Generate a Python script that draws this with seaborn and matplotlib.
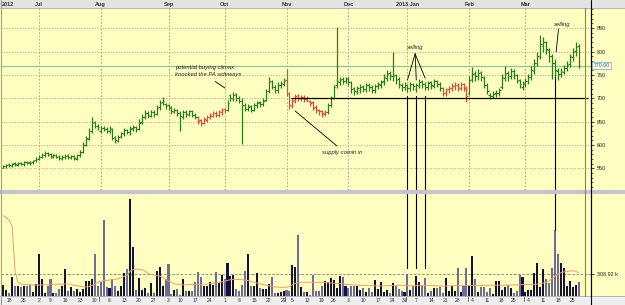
import numpy as np
import pandas as pd
import matplotlib
matplotlib.use("Agg")
import matplotlib.pyplot as plt
import seaborn as sns
from matplotlib.patches import Rectangle
from matplotlib.lines import Line2D
from matplotlib.ticker import MultipleLocator, FixedLocator

# ---------------- data ----------------
holidays = ["2012-07-04", "2012-09-03", "2012-10-29", "2012-10-30", "2012-11-22",
            "2012-12-25", "2013-01-01", "2013-01-21", "2013-02-18"]
start_date = "2012-06-14"
end_date = "2013-03-27"

opens = [552, 555, 559, 556, 561, 558, 562, 559, 564, 563,
         564, 567, 571, 575, 578, 583, 580, 575, 579,
         576, 571, 574, 578, 573, 577, 571, 578, 586, 601,
         614, 631, 650, 641, 631, 637, 635, 629, 634,
         617, 609, 619, 624, 633, 627, 636, 639, 635, 650,
         659, 669, 663, 671, 667, 681, 691, 687, 685,
         681, 671, 676, 669, 660, 671, 665, 673, 665, 659,
         653, 647, 654, 661, 663, 669, 664, 671, 677, 675,
         706, 699, 709, 701, 694, 686, 677, 683, 675,
         686, 691, 687, 697, 716, 736, 724, 717, 729, 731,
         740, 712, 684, 696, 706, 699, 703, 697, 694,
         691, 681, 674, 673, 667, 671, 686, 701, 728, 734,
         741, 737, 743, 734, 721, 714, 717, 726, 719,
         729, 725, 717, 727, 729, 736, 744, 753, 747, 749,
         741, 729, 724, 729, 721, 731, 719, 727, 736,
         731, 724, 734, 727, 737, 731, 721, 711, 719, 721,
         727, 729, 723, 731, 723, 712, 741, 753, 747, 756,
         744, 729, 707, 704, 711, 711, 725, 744, 753,
         747, 759, 749, 739, 724, 731, 737, 746, 759,
         776, 789, 812, 821, 804, 791, 776, 759, 751, 757,
         764, 773, 789, 801, 812]

highs = [558, 560, 561, 562, 563, 564, 564, 566, 566, 565,
         569, 574, 578, 582, 587, 586, 582, 580, 581,
         578, 578, 580, 580, 578, 579, 580, 589, 606, 620,
         636, 660, 652, 645, 640, 640, 638, 640, 636,
         620, 622, 628, 636, 635, 640, 642, 641, 655, 666,
         674, 672, 676, 674, 685, 696, 702, 690, 688,
         683, 680, 678, 672, 674, 674, 676, 676, 668, 662,
         656, 659, 664, 668, 672, 672, 676, 680, 680, 696,
         710, 714, 712, 704, 700, 690, 688, 686, 690,
         694, 695, 700, 720, 745, 740, 728, 734, 738, 744,
         762, 714, 700, 710, 710, 708, 706, 704, 697,
         694, 685, 678, 676, 674, 690, 705, 728, 853, 746,
         745, 746, 745, 736, 724, 727, 730, 728, 733,
         732, 728, 730, 735, 740, 752, 760, 758, 800, 752,
         745, 733, 734, 730, 735, 732, 732, 742, 740,
         735, 738, 737, 742, 740, 734, 724, 722, 726, 732,
         734, 732, 735, 733, 726, 748, 766, 758, 762, 758,
         748, 733, 712, 715, 718, 722, 752, 768, 758,
         765, 762, 752, 742, 738, 744, 752, 768, 785,
         798, 836, 830, 822, 808, 795, 785, 765, 765, 772,
         780, 795, 808, 820, 815]

lows = [550, 552, 554, 553, 556, 555, 557, 556, 559, 558,
        560, 564, 568, 572, 575, 576, 573, 572, 572,
        568, 568, 571, 570, 570, 568, 568, 575, 584, 598,
        610, 626, 636, 632, 626, 630, 626, 625, 610,
        604, 606, 615, 620, 624, 622, 630, 628, 632, 645,
        655, 658, 660, 660, 664, 676, 686, 678, 676,
        666, 668, 663, 630, 656, 660, 662, 660, 655, 646,
        640, 645, 650, 656, 660, 660, 660, 665, 668, 672,
        694, 694, 695, 690, 602, 672, 672, 670, 672,
        680, 682, 684, 694, 712, 720, 712, 712, 722, 726,
        704, 678, 680, 690, 694, 694, 692, 692, 684,
        674, 668, 664, 660, 662, 666, 682, 698, 722, 728,
        730, 732, 728, 712, 706, 710, 712, 714, 714,
        716, 712, 712, 720, 722, 728, 738, 740, 736, 730,
        722, 716, 718, 714, 716, 718, 714, 722, 722,
        718, 718, 720, 722, 724, 716, 704, 705, 712, 716,
        718, 716, 718, 716, 693, 708, 734, 738, 740, 738,
        722, 710, 698, 700, 702, 705, 720, 738, 738,
        742, 742, 732, 722, 718, 725, 730, 740, 752,
        770, 785, 800, 795, 778, 742, 745, 740, 745, 752,
        758, 766, 780, 790, 765]

closes = [556, 558, 557, 560, 559, 561, 560, 563, 562, 561,
          566, 570, 574, 578, 582, 579, 576, 578, 575,
          572, 575, 577, 574, 576, 572, 578, 585, 600, 615,
          630, 648, 640, 638, 636, 634, 630, 636, 615,
          610, 618, 625, 632, 628, 635, 638, 634, 648, 660,
          668, 664, 670, 666, 680, 690, 695, 684, 680,
          672, 675, 668, 662, 670, 666, 672, 664, 660, 652,
          648, 655, 660, 664, 668, 665, 672, 676, 674, 690,
          700, 708, 700, 695, 685, 678, 682, 676, 685,
          690, 688, 695, 715, 735, 725, 718, 728, 732, 738,
          710, 685, 695, 705, 700, 702, 698, 700, 690,
          680, 675, 672, 668, 670, 685, 700, 725, 738, 740,
          738, 742, 735, 720, 715, 722, 725, 720, 728,
          724, 718, 726, 730, 735, 745, 752, 748, 748, 740,
          730, 725, 728, 722, 730, 726, 728, 735, 730,
          725, 733, 728, 736, 730, 722, 712, 718, 722, 726,
          728, 724, 730, 722, 705, 740, 752, 748, 755, 745,
          728, 715, 705, 710, 712, 718, 745, 752, 748,
          758, 750, 738, 730, 732, 738, 745, 760, 775,
          790, 815, 820, 805, 790, 775, 760, 752, 758, 765,
          772, 790, 800, 810, 770]

# bar colour segments (index ranges of red "weak" bars)
red_segments = [(66, 75), (96, 109), (149, 157)]

# volume in thousands
volume_k = [157, 85, 38, 261, 142, 133, 123, 142, 133, 157,
            62, 166, 584, 237, 38, 142, 237, 47, 47, 95,
            142, 370, 71, 123, 71, 95, 62, 95, 204, 204,
            228, 584, 133, 195, 1045, 123, 109, 228, 133, 71,
            133, 323, 370, 1344, 670, 76, 242, 76, 109, 47,
            180, 38, 347, 394, 142, 228, 442, 28, 76, 95,
            14, 228, 71, 71, 71, 195, 337, 261, 142, 142,
            195, 157, 337, 195, 285, 228, 451, 276, 285, 95,
            71, 157, 347, 575, 142, 133, 314, 109, 95, 95,
            171, 266, 38, 38, 52, 71, 85, 71, 428, 404,
            846, 119, 52, 52, 14, 285, 71, 71, 142,
            204, 190, 242, 219, 109, 276, 266, 142, 109,
            133, 133, 142, 85, 109, 62, 109, 52, 214, 95,
            195, 62, 76, 38, 180, 142, 95, 71, 62, 309,
            85, 133, 276, 190, 133, 252, 47, 71, 109, 109,
            123, 38, 242, 71, 133, 71, 385, 62, 142, 385,
            142, 551, 228, 52, 123, 123, 52, 109, 28,
            204, 204, 85, 123, 157, 109, 38, 71, 285, 266,
            62, 85, 85, 323, 451, 123, 370, 228, 180, 385,
            903, 584, 456, 380, 142, 204, 119, 157, 190]

volume_ma_k = [1107, 1080, 1040, 960, 330, 190, 165, 160, 158, 155,
               152, 150, 150, 152, 155, 157, 160, 160, 162, 163,
               165, 166, 166, 160, 150, 140, 135, 130, 125, 128,
               145, 160, 190, 205, 210, 215, 220, 228, 230, 240,
               255, 270, 290, 340, 365, 370, 368, 362, 345, 310,
               300, 290, 280, 275, 260, 230, 205, 185, 170, 160,
               157, 155, 155, 157, 160, 160, 160, 157, 160, 165,
               170, 175, 180, 185, 195, 205, 215, 225, 228, 228,
               228, 225, 220, 212, 200, 190, 178, 168, 158, 150,
               140, 133, 125, 122, 120, 120, 122, 128, 155, 175,
               185, 190, 190, 190, 190, 190, 190, 190, 188, 185,
               183, 180, 178, 175, 170, 165, 160, 157, 155, 152,
               150, 148, 145, 143, 142, 142, 140, 138, 138, 140,
               142, 145, 147, 148, 148, 146, 144, 142, 140, 140,
               142, 143, 145, 146, 146, 145, 143, 140, 138, 137,
               137, 138, 140, 142, 145, 147, 148, 147, 145, 143,
               142, 142, 144, 146, 148, 150, 150, 149, 148, 148,
               149, 150, 152, 153, 154, 155, 156, 155, 157, 158,
               160, 165, 170, 178, 190, 210, 240, 270, 300, 320,
               332, 340, 345, 347, 340, 323]

volume_ref_k = 308.92
support_level = 700
selling_jan_bars = [137, 140, 143]
selling_mar_bar = 187

price_ticks = [550, 600, 650, 700, 750, 800, 850]

# ---------------- style ----------------
sns.set_theme(style="white")
plt.rcParams["font.family"] = ["Liberation Sans", "DejaVu Sans"]

BG = "#ffffc2"
GREEN = "#2b7a1c"
RED = "#d4503e"

dates = pd.bdate_range(start_date, end_date, freq="C", holidays=holidays)
n = len(dates)
idx = np.arange(n)
O = np.array(opens, float)
Hh = np.array(highs, float)
L = np.array(lows, float)
C = np.array(closes, float)
V = np.array(volume_k, float)
MA = np.array(volume_ma_k, float)

bar_colors = np.array([GREEN] * n, dtype=object)
for a, b in red_segments:
    bar_colors[a:b + 1] = RED

W, Hpx = 625, 305
def fx(px):
    return px / W
def fy(py):
    return 1 - py / Hpx

fig = plt.figure(figsize=(6.25, 3.05), dpi=100, facecolor=BG)

# background strips
fig.patches.append(Rectangle((0, fy(8)), 1, 8 / Hpx, transform=fig.transFigure,
                             facecolor="#e3e3e3", edgecolor="none", zorder=-5))
fig.patches.append(Rectangle((0, fy(193.5)), 1, 4 / Hpx, transform=fig.transFigure,
                             facecolor="#c4c4cc", edgecolor="none", zorder=-5))
fig.patches.append(Rectangle((0, 0), 1, 9 / Hpx, transform=fig.transFigure,
                             facecolor="#eeeeee", edgecolor="none", zorder=-5))
fig.lines.append(Line2D([0, 1], [fy(8), fy(8)], transform=fig.transFigure, color="#a8a8a8", lw=0.6))
fig.lines.append(Line2D([0, 1], [fy(296), fy(296)], transform=fig.transFigure, color="#a8a8a8", lw=0.6))

x_left, x_right = fx(1), fx(591)
ax = fig.add_axes([x_left, fy(189.5), x_right - x_left, fy(8) - fy(189.5)])
axv = fig.add_axes([x_left, fy(296), x_right - x_left, fy(193.5) - fy(296)], sharex=ax)

px_per_bar = 2.95
xmin = (1 - 3.3) / px_per_bar
xmax = (591 - 3.3) / px_per_bar

for a in (ax, axv):
    a.set_facecolor(BG)
    for s in ("top", "left", "bottom"):
        a.spines[s].set_visible(False)
    a.spines["right"].set_color("black")
    a.spines["right"].set_linewidth(0.8)
    a.set_xlim(xmin, xmax)

# ---------------- price panel ----------------
ax.set_ylim(505, 893)
ax.yaxis.tick_right()
ax.yaxis.set_major_locator(FixedLocator(price_ticks))
ax.yaxis.set_minor_locator(MultipleLocator(10))
ax.tick_params(axis="y", which="major", length=2.5, width=0.6, labelsize=3.9, pad=1.5, colors="#222222")
ax.tick_params(axis="y", which="minor", length=1.3, width=0.5, colors="#222222")
ax.tick_params(axis="x", which="both", length=0, labelbottom=False)
ax.grid(False)
for p in price_ticks:
    ax.axhline(p, color="#9c9c9c", lw=0.6, ls=(0, (1.2, 2)), zorder=1)

# month gridlines
month_first = pd.Series(idx, index=dates).groupby([dates.year, dates.month]).first().values
for j in month_first[1:]:
    ax.axvline(j, color="#9c9c9c", lw=0.6, ls=(0, (2, 2)), zorder=1)

# current price line
ax.axhline(C[-1], color="#8fc7a3", lw=0.9, zorder=1.5)

# OHLC bars
ax.vlines(idx, L, Hh, colors=bar_colors, lw=0.9, zorder=3)
ax.hlines(O, idx - 0.55, idx, colors=bar_colors, lw=0.8, zorder=3)
ax.hlines(C, idx, idx + 0.55, colors=bar_colors, lw=0.8, zorder=3)

# support line
ax.hlines(support_level, 97.5, 198.3, colors="black", lw=0.9, zorder=4)

# annotations
ann = dict(fontsize=4.2, style="italic", color="#222222")
ax.text(58.3, 758, "potential buying climax\nknocked the PA sideways", ha="left", va="center",
        linespacing=1.55, **ann)
ax.plot([71.8, 75.1], [736, 722], color="black", lw=0.6, zorder=5)

ax.text(108.2, 585, "supply comin in", ha="left", va="center", **ann)
ax.plot([98.9, 113.1], [673, 598], color="black", lw=0.6, zorder=5)

ax.text(139.6, 808, "selling", ha="center", va="center", **ann)
for j, yb in zip(selling_jan_bars, [739, 739, 743]):
    ax.plot([139.6, j], [795, yb], color="black", lw=0.6, zorder=5)
    ax.plot([j, j], [704, 505], color="black", lw=0.8, zorder=5)

ax.text(189.3, 857, "selling", ha="center", va="center", **ann)
ax.plot([188.2, 187.4], [848, 799], color="black", lw=0.6, zorder=5)
ax.plot([selling_mar_bar, selling_mar_bar], [L[selling_mar_bar], 505], color="black", lw=0.8, zorder=5)

# last price box
ax.text(1.004, C[-1], f"{C[-1]:.2f}", transform=ax.get_yaxis_transform(), ha="left", va="center",
        fontsize=3.8, color="#1f5f7f",
        bbox=dict(boxstyle="square,pad=0.25", facecolor="#fdfde8", edgecolor="#7fb3cf", lw=0.6),
        zorder=6, clip_on=False)

# ---------------- volume panel ----------------
axv.set_ylim(0, 1413)
up = np.r_[True, C[1:] >= C[:-1]]
vcolors = np.where(up, "#12123a", "#6c6c9e")
axv.bar(idx, V, width=0.7, color=vcolors, linewidth=0, zorder=3)
sns.lineplot(x=idx, y=MA, ax=axv, color="#e2a36a", lw=0.7, zorder=4, legend=False)
axv.axhline(volume_ref_k, color="#8a7a5a", lw=0.6, ls=(0, (3, 2)), zorder=2)
axv.set_xlabel("")
axv.set_ylabel("")
axv.yaxis.tick_right()
axv.set_yticks([volume_ref_k])
axv.set_yticklabels([f"{volume_ref_k:.2f} k"])
axv.tick_params(axis="y", length=2.5, width=0.6, labelsize=3.9, pad=1.5, colors="#222222")

for j in selling_jan_bars:
    axv.plot([j, j], [1413, 390], color="black", lw=0.8, zorder=5)
axv.plot([selling_mar_bar, selling_mar_bar], [1413, V[selling_mar_bar]], color="black", lw=0.8, zorder=5)

# week labels (full weeks only: Monday label inside the data range)
wk = pd.Series(idx, index=dates)
week_key = dates.to_period("W-SUN")
week_first = wk.groupby(week_key).first()
keep = [p.start_time >= dates[0] for p in week_first.index]
tick_pos = week_first.values[keep]
tick_lab = [str(p.start_time.day) for p, k in zip(week_first.index, keep) if k]
axv.set_xticks(tick_pos)
axv.set_xticklabels(tick_lab)
axv.tick_params(axis="x", length=0, labelsize=3.6, pad=1.2, colors="#333333")
tick_set = set(int(t) for t in tick_pos)
for j in month_first[1:]:
    if int(j) not in tick_set:
        axv.plot([j - 0.5, j - 0.5], [-20, -75], color="#555555", lw=0.6, clip_on=False)

# month header labels
month_names = {1: "2013 Jan", 7: "Jul", 8: "Aug", 9: "Sep", 10: "Oct", 11: "Nov", 12: "Dec", 2: "Feb", 3: "Mar"}
fig.text(fx(2), fy(4.2), "2012", fontsize=4.0, ha="left", va="center", color="#333333", weight="bold")
for j in month_first[1:]:
    m = dates[j].month
    xpix = 3.3 + j * px_per_bar
    fig.text(fx(xpix), fy(4.2), month_names[m], fontsize=4.0, ha="center", va="center",
             color="#333333", weight="bold")

# vertical lines crossing panels
fig.lines.append(Line2D([fx(591), fx(591)], [fy(0), fy(305)], transform=fig.transFigure, color="black", lw=0.8))
fig.lines.append(Line2D([fx(585), fx(585)], [fy(8), fy(296)], transform=fig.transFigure, color="#b5703f", lw=0.8))
fig.lines.append(Line2D([fx(0.5), fx(0.5)], [fy(0), fy(305)], transform=fig.transFigure, color="#a0a0a0", lw=0.8))

fig.savefig("out.png", dpi=100, facecolor=BG)
